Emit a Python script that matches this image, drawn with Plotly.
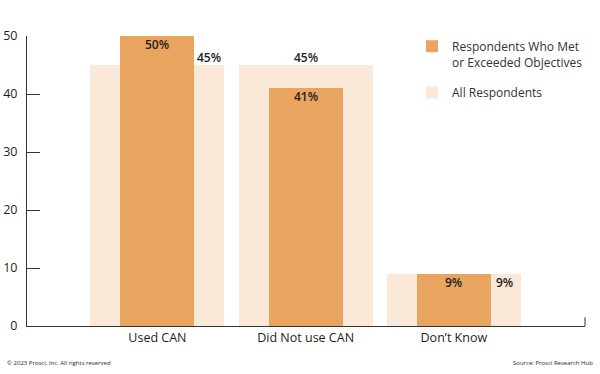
import plotly.graph_objects as go

categories = ["Used CAN", "Did Not use CAN", "Don’t Know"]
met_values = [50, 41, 9]
all_values = [45, 45, 9]
y_ticks = [0, 10, 20, 30, 40, 50]
met_name = "Respondents Who Met<br>or Exceeded Objectives"
all_name = "All Respondents"

DARK = "#E9A45F"
LIGHT = "#FAE8D8"
TXT = "#1e1e1e"
FONT = "Open Sans"

fig = go.Figure()
fig.add_trace(go.Bar(x=list(range(len(categories))), y=all_values, width=0.905,
                     marker=dict(color=LIGHT, line=dict(width=0)), name=all_name,
                     legendgroup="b", legendrank=2, hoverinfo="skip"))
fig.add_trace(go.Bar(x=list(range(len(categories))), y=met_values, width=0.5,
                     marker=dict(color=DARK, line=dict(width=0)), name=met_name,
                     legendgroup="a", legendrank=1, hoverinfo="skip"))

ann = []
lab_font = dict(family=FONT, size=12, color=TXT, weight=600)
for i, v in enumerate(met_values):
    ann.append(dict(x=i, y=v, xref="x", yref="y", text=f"{v}%", showarrow=False,
                    yanchor="top", yshift=2, font=lab_font))
for i, (v, m) in enumerate(zip(all_values, met_values)):
    if m > v:
        ann.append(dict(x=i + 0.345, y=v, text=f"{v}%", showarrow=False,
                        yanchor="bottom", yshift=-3, font=lab_font))
    elif m < v:
        ann.append(dict(x=i, y=v, text=f"{v}%", showarrow=False,
                        yanchor="bottom", yshift=-3, font=lab_font))
    else:
        ann.append(dict(x=i + 0.345, y=v, text=f"{v}%", showarrow=False,
                        yanchor="top", yshift=2, font=lab_font))

small = dict(family=FONT, size=6, color=TXT)
ann.append(dict(xref="paper", yref="paper", x=-0.0394, y=-0.1276, text="© 2023 Prosci, Inc. All rights reserved",
                showarrow=False, xanchor="left", yanchor="middle", font=small))
ann.append(dict(xref="paper", yref="paper", x=1.018, y=-0.1276, text="Source: Prosci Research Hub",
                showarrow=False, xanchor="right", yanchor="middle", font=small))

fig.update_layout(
    width=600, height=374,
    margin=dict(l=27, r=15, t=36, b=48, autoexpand=False),
    paper_bgcolor="white", plot_bgcolor="white",
    barmode="overlay",
    bargap=0,
    showlegend=True,
    legend=dict(x=0.69, y=1.014, xanchor="left", yanchor="top", valign="top",
                font=dict(family=FONT, size=12, color="#333333"),
                traceorder="grouped", tracegroupgap=12, bgcolor="rgba(0,0,0,0)"),
    annotations=ann,
    shapes=[dict(type="line", xref="paper", yref="paper", x0=1, x1=1, y0=0, y1=0.03,
                 line=dict(color="#333333", width=1))],
    xaxis=dict(tickmode="array", tickvals=list(range(len(categories))), ticktext=categories,
               range=[-0.88, 2.885], showline=True, linecolor="#333333", linewidth=1,
               ticks="", showgrid=False, zeroline=False, automargin=False,
               tickfont=dict(family=FONT, size=12.5, color=TXT, weight=500)),
    yaxis=dict(range=[0, 50], tickvals=y_ticks, showline=True, linecolor="#333333", linewidth=1,
               ticks="inside", ticklen=13, tickcolor="#333333", tickwidth=1,
               showgrid=False, zeroline=False, ticklabelstandoff=6, automargin=False,
               tickfont=dict(family=FONT, size=12.5, color=TXT)),
    font=dict(family=FONT),
)

fig.write_html("out.html", config={"displayModeBar": False},
               post_script="document.body.style.margin='0px';")
